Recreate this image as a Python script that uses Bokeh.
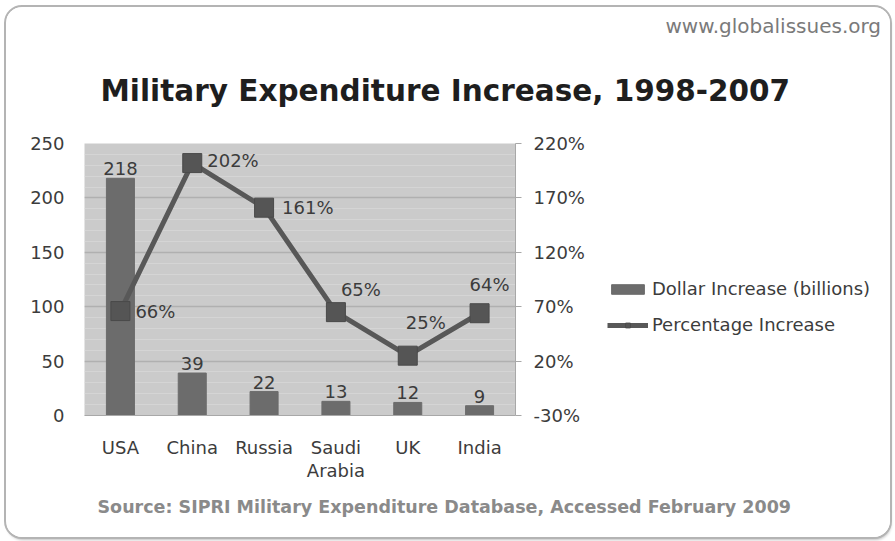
from bokeh.plotting import figure
from bokeh.models import (Range1d, LinearAxis, FixedTicker, ColumnDataSource, Legend, LegendItem,
                          Title, CustomJSTickFormatter)
from bokeh.core.properties import value
from bokeh.embed import file_html
from bokeh.resources import INLINE

countries = ["USA", "China", "Russia", "Saudi Arabia", "UK", "India"]
dollar_increase = [218, 39, 22, 13, 12, 9]
pct_increase = [66, 202, 161, 65, 25, 64]
left_ticks = [0, 50, 100, 150, 200, 250]
right_ticks = [-30, 20, 70, 120, 170, 220]

# label placement (styling only)
pct_dx = [15, 15, 18, 25, 18, 10]
pct_dy = [0, -3, 0, -23, -33, -29]
pct_align = ["left", "left", "left", "center", "center", "center"]

FONT = "DejaVu Sans"
TXT = "#3c3c3c"

factors = [c.replace(" ", "\n") for c in countries]   # two-line axis label for "Saudi Arabia"

src = ColumnDataSource(dict(
    c=factors, d=dollar_increase, p=pct_increase,
    dl=[str(v) for v in dollar_increase],
    pl=[f"{v}%" for v in pct_increase],
    dx=pct_dx, dy=pct_dy, al=pct_align,
))

p = figure(x_range=factors, y_range=Range1d(0, 250), frame_width=431, frame_height=272,
           output_backend="svg", toolbar_location=None,
           min_border_left=78, min_border_right=375, min_border_top=136, min_border_bottom=122,
           background_fill_color="#cbcbcb", border_fill_color="white", outline_line_color=None)
p.styles = {"margin-left": "6px", "margin-top": "7px", "outline": "2px solid #b4b4b4",
            "border-radius": "16px", "box-shadow": "1px 3px 3px #c0c0c0",
            "width": "884px", "height": "530px", "overflow": "hidden"}

p.extra_y_ranges = {"pct": Range1d(-30, 220)}

# grid
p.xgrid.grid_line_color = None
p.ygrid.ticker = FixedTicker(ticks=left_ticks, minor_ticks=list(range(0, 251, 10)))
p.ygrid.grid_line_color = "#b0b0b0"
p.ygrid.grid_line_width = 1.5
p.ygrid.minor_grid_line_color = "#d8d8d8"
p.ygrid.minor_grid_line_alpha = 0.7

bars = p.vbar(x="c", top="d", width=0.39, source=src, color="#6c6c6c")
line = p.line(x="c", y="p", source=src, y_range_name="pct", line_color="#585858", line_width=5)
marks = p.scatter(x="c", y="p", source=src, y_range_name="pct", marker="square", size=19,
                  fill_color="#555555", line_color="#4a4a4a")

p.text(x="c", y="d", text="dl", source=src, text_align="center", text_baseline="bottom",
       y_offset=-3, text_font=value(FONT), text_font_size="18px", text_color=TXT)
p.text(x="c", y="p", text="pl", source=src, y_range_name="pct", x_offset="dx", y_offset="dy",
       text_align="al", text_baseline="middle", text_font=value(FONT), text_font_size="18px",
       text_color=TXT)

# axes
ax = p.yaxis[0]
ax.ticker = FixedTicker(ticks=left_ticks)
ax.axis_line_color = None
ax.major_tick_line_color = None
ax.minor_tick_line_color = None
ax.major_label_text_font = FONT
ax.major_label_text_font_size = "18px"
ax.major_label_text_color = TXT
ax.major_label_standoff = 14

ra = LinearAxis(y_range_name="pct", ticker=FixedTicker(ticks=right_ticks),
                formatter=CustomJSTickFormatter(code="return tick + '%';"))
ra.axis_line_color = "#a8a8a8"
ra.major_tick_line_color = "#a8a8a8"
ra.major_tick_out = 6
ra.major_tick_in = 0
ra.minor_tick_line_color = None
ra.major_label_text_font = FONT
ra.major_label_text_font_size = "18px"
ra.major_label_text_color = TXT
ra.major_label_standoff = 12
p.add_layout(ra, "right")

xa = p.xaxis[0]
xa.axis_line_color = "#a8a8a8"
xa.major_tick_line_color = None
xa.major_tick_out = 0
xa.major_label_standoff = 21
xa.major_label_text_font = FONT
xa.major_label_text_font_size = "18px"
xa.major_label_text_color = TXT
xa.major_label_text_line_height = 1.1

# legend
legend = Legend(items=[LegendItem(label="Dollar Increase (billions)", renderers=[bars]),
                       LegendItem(label="Percentage Increase", renderers=[line, marks])],
                location=(0, 80), glyph_width=41, glyph_height=12, spacing=15,
                label_text_font=FONT, label_text_font_size="18px", label_text_color=TXT,
                border_line_color=None, background_fill_alpha=0, label_standoff=4,
                padding=0, margin=0)
p.add_layout(legend, "right")

# titles
p.title.text = "www.globalissues.org"
p.title.text_font = FONT
p.title.text_font_size = "20px"
p.title.text_font_style = "normal"
p.title.text_color = "#7a7a7a"
p.title.offset = 581
p.title.standoff = -4

main = Title(text="Military Expenditure Increase, 1998-2007", text_font=FONT,
             text_font_size="29.5px", text_font_style="bold", text_color="#1e1e1e",
             offset=16, standoff=72)
p.add_layout(main, "above")

source = Title(text="Source: SIPRI Military Expenditure Database, Accessed February 2009",
               text_font=FONT, text_font_size="17.5px", text_font_style="bold", text_color="#8a8a8a",
               offset=13, standoff=22)
p.add_layout(source, "below")

open("out.html", "w").write(file_html(p, INLINE))
